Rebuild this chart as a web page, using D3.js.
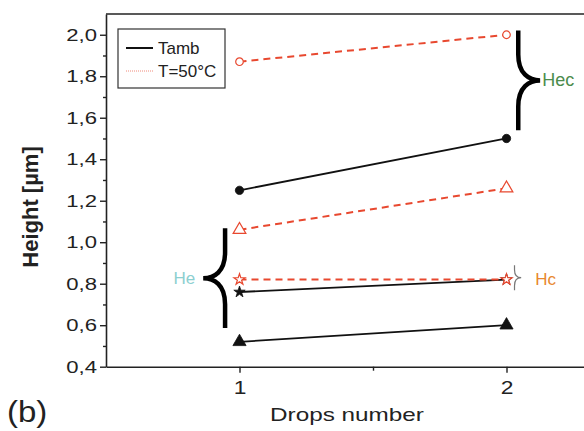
<!DOCTYPE html>
<html>
<head>
  <meta charset='utf-8'/>
  <style>
body { margin: 0; background: #fff; }
text { font-family: "Liberation Sans", Arial, sans-serif; fill: #222; }
  </style>
  <script src="https://d3js.org/d3.v7.min.js"></script>
</head>
<body>
<svg width="584" height="431"></svg>
<script>

// drops number
var drops = [1, 2];

// heights in µm
var tambCircle = [1.25, 1.50],
    tambStar = [0.76, 0.82],
    tambTriangle = [0.52, 0.60],
    hotCircle = [1.87, 2.00],
    hotTriangle = [1.06, 1.26],
    hotStar = [0.82, 0.82];

var yTicks = [0.4, 0.6, 0.8, 1.0, 1.2, 1.4, 1.6, 1.8, 2.0];
var yMinor = [0.5, 0.7, 0.9, 1.1, 1.3, 1.5, 1.7, 1.9];
var xMinor = [1.5];

var legendNames = ["Tamb", "T=50\u00b0C"];

// braces: [x stem, x tip, y top, y bottom] in data units
var braceHec = [2.044, 2.126, 2.02, 1.54],
    braceHe = [0.946, 0.864, 1.067, 0.586],
    braceHc = [2.03, 2.055, 0.889, 0.769];

var red = "#e8482f";

var svg = d3.select("svg");

var x = d3.scaleLinear().domain([0.5, 2.5]).range([106, 640]);
var y = d3.scaleLinear().domain([0.4, 2.1]).range([366.7, 14]);

var fmt = function(d) { return d3.format(".1f")(d).replace(".", ","); };

// frame
svg.append("line").attr("x1", 106).attr("x2", 584).attr("y1", 14).attr("y2", 14)
    .attr("stroke", "#222").attr("stroke-width", 1.6);

var gy = svg.append("g").attr("transform", "translate(106,0)")
    .call(d3.axisLeft(y).tickValues(yTicks).tickFormat(fmt).tickSize(6).tickSizeOuter(0));
gy.append("g").call(d3.axisLeft(y).tickValues(yMinor).tickFormat("").tickSize(3).tickSizeOuter(0))
    .select(".domain").remove();

var gx = svg.append("g").attr("transform", "translate(0,366.7)")
    .call(d3.axisBottom(x).tickValues(drops).tickFormat(d3.format("d")).tickSize(6).tickSizeOuter(0));
gx.append("g").call(d3.axisBottom(x).tickValues(xMinor).tickFormat("").tickSize(4).tickSizeOuter(0))
    .select(".domain").remove();

svg.selectAll(".domain").attr("stroke", "#222").attr("stroke-width", 1.6);
svg.selectAll(".tick line").attr("stroke", "#222").attr("stroke-width", 1.4);
// the original figure is stretched sideways, so the labels are too
gy.selectAll(".tick text").attr("font-size", 17).attr("transform", "scale(1.3,1)")
    .attr("x", -9 / 1.3).style("fill", "#222")
    .attr("font-family", "Liberation Sans, Arial, sans-serif");
gx.selectAll(".tick text").attr("font-size", 19).attr("transform", "scale(1.2,1)")
    .attr("y", 14).style("fill", "#222")
    .attr("font-family", "Liberation Sans, Arial, sans-serif");

// axis titles
svg.append("text").attr("transform", "translate(38,207) rotate(-90)")
    .attr("text-anchor", "middle").attr("font-size", 22).attr("font-weight", "bold")
    .text("Height [\u00b5m]");
svg.append("text").attr("transform", "translate(347,421) scale(1.35,1)")
    .attr("text-anchor", "middle").attr("font-size", 18).text("Drops number");
svg.append("text").attr("transform", "translate(7,422) scale(1.1,1)")
    .attr("font-size", 30).text("(b)");

// series
var series = [
  { v: tambCircle, sym: d3.symbolCircle, size: 55, open: false, hot: false },
  { v: tambStar, sym: d3.symbolStar, size: 40, open: false, hot: false },
  { v: tambTriangle, sym: d3.symbolTriangle, size: 75, open: false, hot: false },
  { v: hotCircle, sym: d3.symbolCircle, size: 45, open: true, hot: true },
  { v: hotTriangle, sym: d3.symbolTriangle, size: 70, open: true, hot: true },
  { v: hotStar, sym: d3.symbolStar, size: 38, open: true, hot: true }
];

var line = d3.line().x(function(d, i) { return x(drops[i]); }).y(function(d) { return y(d); });

series.forEach(function(s) {
  var c = s.hot ? red : "#111";
  svg.append("path").attr("d", line(s.v)).attr("fill", "none")
      .attr("stroke", c).attr("stroke-width", s.hot ? 2 : 1.8)
      .attr("stroke-dasharray", s.hot ? "7,5" : null);
  svg.selectAll(null).data(s.v).enter().append("path")
      .attr("transform", function(d, i) { return "translate(" + x(drops[i]) + "," + y(d) + ")"; })
      .attr("d", d3.symbol().type(s.sym).size(s.size))
      .attr("fill", s.open ? "#fff" : c)
      .attr("stroke", c).attr("stroke-width", s.open ? 1.2 : 0.8);
});

// legend
var lg = svg.append("g");
lg.append("rect").attr("x", 118).attr("y", 29).attr("width", 107).attr("height", 59)
    .attr("fill", "#fff").attr("stroke", "#333").attr("stroke-width", 1.2);
lg.append("line").attr("x1", 126).attr("x2", 153).attr("y1", 48).attr("y2", 48)
    .attr("stroke", "#111").attr("stroke-width", 2);
lg.append("line").attr("x1", 126).attr("x2", 153).attr("y1", 71).attr("y2", 71)
    .attr("stroke", "#f08a7a").attr("stroke-width", 1).attr("stroke-dasharray", "1,1");
lg.selectAll("text.lg").data(legendNames).enter().append("text").attr("class", "lg")
    .attr("x", 158).attr("y", function(d, i) { return 54 + i * 23; })
    .attr("font-size", 17).text(function(d) { return d; });

// braces
function brace(b, h, w) {
  var xs = x(b[0]), xt = x(b[1]), y1 = y(b[2]), y2 = y(b[3]), ym = (y1 + y2) / 2;
  var d = "M" + xs + "," + y1 + "L" + xs + "," + (ym - h) +
      "C" + xs + "," + (ym - h * 0.25) + " " + (xt - (xt - xs) * 0.5) + "," + ym + " " + xt + "," + ym +
      "C" + (xt - (xt - xs) * 0.5) + "," + ym + " " + xs + "," + (ym + h * 0.25) + " " + xs + "," + (ym + h) +
      "L" + xs + "," + y2;
  return svg.append("path").attr("d", d).attr("fill", "none").attr("stroke-width", w);
}
brace(braceHec, 26, 4.5).attr("stroke", "#000");
brace(braceHe, 26, 4.5).attr("stroke", "#000");
brace(braceHc, 8, 1.2).attr("stroke", "#777");

svg.append("text").attr("x", x(braceHec[1]) + 2).attr("y", y((braceHec[2] + braceHec[3]) / 2) + 6)
    .attr("font-size", 18).style("fill", "#4c8c4c").text("Hec");
svg.append("text").attr("x", x(braceHe[1]) - 8).attr("y", y((braceHe[2] + braceHe[3]) / 2) + 6)
    .attr("text-anchor", "end").attr("font-size", 17).style("fill", "#8ccfd0").text("He");
svg.append("text").attr("x", x(braceHc[1]) + 14).attr("y", y((braceHc[2] + braceHc[3]) / 2) + 7)
    .attr("font-size", 17).style("fill", "#e8882e").text("Hc");

</script>
</body>
</html>
